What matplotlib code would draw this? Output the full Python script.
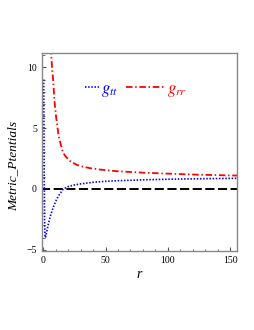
import matplotlib
matplotlib.use("Agg")
import matplotlib.pyplot as plt
from matplotlib.ticker import MultipleLocator

plt.rcParams['font.family'] = ['Liberation Serif', 'DejaVu Serif']
plt.rcParams['mathtext.fontset'] = 'stix'

# g_tt (blue dotted)
r_tt = [0.3, 0.5, 0.7, 1.0, 1.4, 2.0, 3, 4, 5, 6, 8, 10, 12, 14, 16, 18, 20, 25, 30, 40, 50, 60, 80, 100, 125, 157]
g_tt = [9.0, 5.5, 1.0, -2.5, -4.0, -3.9, -3.4, -2.9, -2.5, -2.1, -1.5, -1.0, -0.6, -0.3, 0.0, 0.1, 0.2, 0.33, 0.42, 0.55, 0.63, 0.68, 0.75, 0.80, 0.84, 0.88]

# g_rr (red dash-dot)
r_rr = [6.0, 7.0, 8.1, 8.9, 10.3, 12.4, 15.2, 17.0, 19.8, 22.0, 26.5, 30.0, 37.0, 45.0, 59.0, 80.0, 100.0, 125.0, 157.0]
g_rr = [11.6, 10.0, 8.7, 7.3, 5.9, 4.3, 3.2, 2.8, 2.45, 2.25, 2.0, 1.88, 1.72, 1.6, 1.46, 1.34, 1.26, 1.17, 1.10]

# zero reference line
r_zero = [-2, 157]
g_zero = [0, 0]

xticks = [0, 50, 100, 150]
yticks = [-5, 0, 5, 10]

fig = plt.figure(figsize=(2.55, 3.30), dpi=100)
ax = fig.add_axes([0.1635, 0.2394, 0.7647, 0.6000])

ax.plot(r_zero, g_zero, color='black', lw=1.4, dashes=(4.7, 1.8))
l1, = ax.plot(r_tt, g_tt, color='blue', lw=1.2, linestyle=(0, (0.9, 1.0)),
              label=r'$g_{tt}$')
l2, = ax.plot(r_rr, g_rr, color='red', lw=1.3, linestyle=(0, (3.6, 1.5, 0.8, 1.5)),
              label=r'$g_{rr}$')

ax.set_xlim(-1.3, 155.3)
ax.set_ylim(-5.1, 11.18)
ax.set_xticks(xticks)
ax.set_yticks(yticks)
ax.set_yticklabels(['\u22125', '0', '5', '10'])
ax.xaxis.set_minor_locator(MultipleLocator(10))
ax.yaxis.set_minor_locator(MultipleLocator(1))
ax.tick_params(which='both', direction='in', labelsize=7, color='#555555', top=False, right=False)
ax.tick_params(which='major', length=3, width=0.8)
ax.tick_params(which='minor', length=1.8, width=0.6)
for s in ax.spines.values():
    s.set_color('#888888')
    s.set_linewidth(1.0)

ax.set_xlabel('r', fontsize=10, style='italic', labelpad=2)
ax.set_ylabel('Metric_Ptentials', fontsize=9.6, style='italic', labelpad=3)
ax.yaxis.set_label_coords(-0.115, 0.43)

leg1 = ax.legend(handles=[l1], loc='center left', bbox_to_anchor=(0.222, 0.815), frameon=False,
                 handlelength=0.85, handletextpad=0.1, fontsize=12, labelcolor='linecolor',
                 borderaxespad=0, borderpad=0)
ax.add_artist(leg1)
leg2 = ax.legend(handles=[l2], loc='center left', bbox_to_anchor=(0.432, 0.815), frameon=False,
                 handlelength=2.4, handletextpad=0.08, fontsize=12, labelcolor='linecolor',
                 borderaxespad=0, borderpad=0)

fig.savefig('out.png', dpi=100)
